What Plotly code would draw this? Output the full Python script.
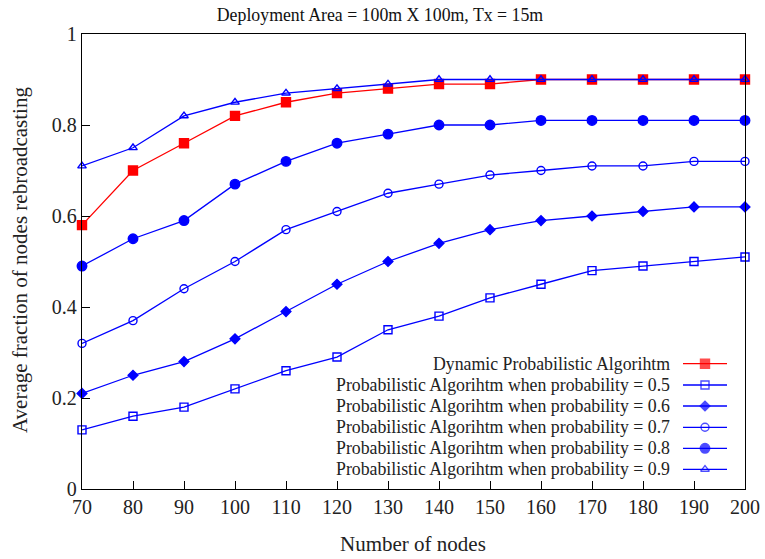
import plotly.graph_objects as go

nodes = [70, 80, 90, 100, 110, 120, 130, 140, 150, 160, 170, 180, 190, 200]
dynamic = [0.58, 0.70, 0.76, 0.82, 0.85, 0.87, 0.88, 0.89, 0.89, 0.90, 0.90, 0.90, 0.90, 0.90]
p05 = [0.13, 0.16, 0.18, 0.22, 0.26, 0.29, 0.35, 0.38, 0.42, 0.45, 0.48, 0.49, 0.50, 0.51]
p06 = [0.21, 0.25, 0.28, 0.33, 0.39, 0.45, 0.50, 0.54, 0.57, 0.59, 0.60, 0.61, 0.62, 0.62]
p07 = [0.32, 0.37, 0.44, 0.50, 0.57, 0.61, 0.65, 0.67, 0.69, 0.70, 0.71, 0.71, 0.72, 0.72]
p08 = [0.49, 0.55, 0.59, 0.67, 0.72, 0.76, 0.78, 0.80, 0.80, 0.81, 0.81, 0.81, 0.81, 0.81]
p09 = [0.71, 0.75, 0.82, 0.85, 0.87, 0.88, 0.89, 0.90, 0.90, 0.90, 0.90, 0.90, 0.90, 0.90]
y_ticks = [0, 0.2, 0.4, 0.6, 0.8, 1]
y_tick_labels = ["0", "0.2", "0.4", "0.6", "0.8", "1"]

names = [
    "Dynamic Probabilistic Algorihtm",
    "Probabilistic Algorihtm when probability = 0.5",
    "Probabilistic Algorihtm when probability = 0.6",
    "Probabilistic Algorihtm when probability = 0.7",
    "Probabilistic Algorihtm when probability = 0.8",
    "Probabilistic Algorihtm when probability = 0.9",
]
series = [dynamic, p05, p06, p07, p08, p09]
colors = ["#ff0000", "#0000ff", "#0000ff", "#0000ff", "#0000ff", "#0000ff"]
symbols = ["square", "square-open", "diamond", "circle-open", "circle", "triangle-up-open"]
sizes = [9, 8, 7.5, 8, 9.5, 7.5]

FONT = "Liberation Serif, Times New Roman, serif"
W, H = 765, 559
L, R, T, B = 82, 20, 34, 70
pw, ph = W - L - R, H - T - B

fig = go.Figure()

order = [1, 2, 3, 4, 0, 5]
for i in order:
    fig.add_trace(go.Scatter(
        x=nodes, y=series[i], mode="lines+markers", name=names[i],
        line=dict(color=colors[i], width=1.3),
        marker=dict(symbol=symbols[i], size=sizes[i], color=colors[i],
                    line=dict(color=colors[i], width=1.4)),
        cliponaxis=False, showlegend=False,
    ))

# custom legend (text right-aligned, sample on the right), in overlay axes
row_y_px = [363.7, 385, 406, 427.3, 448.3, 469.3]
text_right_px = 672
line_x0_px, line_x1_px, mark_x_px = 683, 727, 705
for i, ypx in enumerate(row_y_px):
    yp = (H - B - ypx) / ph
    fig.add_annotation(
        x=(text_right_px - L) / pw, y=yp, xref="paper", yref="paper",
        text=names[i], showarrow=False, xanchor="right", yanchor="middle",
        font=dict(family=FONT, size=17.8, color="#222222"),
    )
    fig.add_trace(go.Scatter(
        x=[(line_x0_px - L) / pw, (mark_x_px - L) / pw, (line_x1_px - L) / pw],
        y=[yp, yp, yp], xaxis="x2", yaxis="y2", mode="lines+markers",
        line=dict(color=colors[i], width=1.3),
        marker=dict(symbol=symbols[i], size=[0, sizes[i], 0], color=colors[i],
                    line=dict(color=colors[i], width=1.4)),
        showlegend=False, hoverinfo="skip", cliponaxis=False,
    ))

# axis titles as annotations for exact placement
fig.add_annotation(x=(20 - L) / pw, y=(H - B - 260) / ph, xref="paper", yref="paper",
                   text="Average fraction of nodes rebroadcasting", textangle=-90,
                   showarrow=False, xanchor="center", yanchor="middle",
                   font=dict(family=FONT, size=21, color="#222222"))
fig.add_annotation(x=(413 - L) / pw, y=(H - B - 544) / ph, xref="paper", yref="paper",
                   text="Number of nodes", showarrow=False, xanchor="center", yanchor="middle",
                   font=dict(family=FONT, size=21, color="#222222"))

fig.update_layout(
    width=W, height=H,
    margin=dict(l=L, r=R, t=T, b=B, autoexpand=False),
    paper_bgcolor="white", plot_bgcolor="white",
    font=dict(family=FONT, size=20, color="#222222"),
    title=dict(text="Deployment Area = 100m X 100m, Tx = 15m", x=380 / W, xanchor="center", xref="container",
               y=1 - 15 / H, yanchor="middle", font=dict(family=FONT, size=17.8, color="#111111")),
    showlegend=False,
    xaxis=dict(range=[70, 200], tickvals=nodes, ticks="inside", ticklen=8,
               tickcolor="black", showgrid=False, zeroline=False,
               showline=True, linecolor="black", linewidth=1.3, mirror=True,
               tickfont=dict(size=20), automargin=False),
    yaxis=dict(range=[0, 1], tickvals=y_ticks, ticktext=y_tick_labels,
               ticks="inside", ticklen=8, tickcolor="black", showgrid=False, zeroline=False,
               showline=True, linecolor="black", linewidth=1.3, mirror=True,
               tickfont=dict(size=20), automargin=False),
    xaxis2=dict(overlaying="x", range=[0, 1], visible=False),
    yaxis2=dict(overlaying="y", range=[0, 1], visible=False),
)

fig.write_html("out.html", config={"displayModeBar": False},
               post_script="document.body.style.margin='0';document.body.style.overflow='hidden';")
